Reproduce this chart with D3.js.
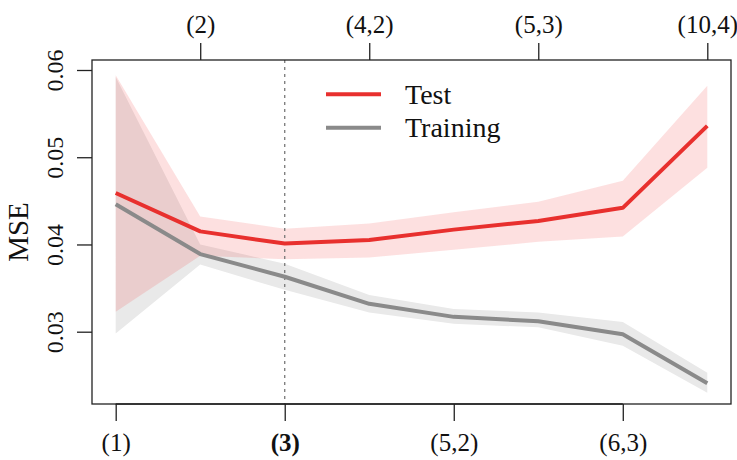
<!DOCTYPE html>
<html>
<head>
<meta charset="utf-8">
<script src="https://cdn.jsdelivr.net/npm/d3@7"></script>
<style>
  html, body { margin: 0; padding: 0; background: #fff; }
  svg { display: block; }
  text { font-family: "Liberation Serif", "DejaVu Serif", serif; fill: #111; }
</style>
</head>
<body>
<svg id="chart" width="737" height="460"></svg>
<script>
// Model index along the x axis (0..7)
const steps = [0, 1, 2, 3, 4, 5, 6, 7];

// Mean squared error per model, with lower / upper band limits
const testMSE  = [0.0459, 0.0415, 0.0401, 0.0405, 0.0417, 0.0427, 0.0442, 0.0536];
const testLow  = [0.0323, 0.0387, 0.0383, 0.0385, 0.0394, 0.0403, 0.0409, 0.0488];
const testHigh = [0.0594, 0.0432, 0.0418, 0.0424, 0.0437, 0.0449, 0.0473, 0.0582];

const trainMSE  = [0.0446, 0.0389, 0.0363, 0.0332, 0.0317, 0.0312, 0.0297, 0.0241];
const trainLow  = [0.0298, 0.0377, 0.0348, 0.0322, 0.0309, 0.0305, 0.0284, 0.0230];
const trainHigh = [0.0592, 0.0400, 0.0378, 0.0342, 0.0326, 0.0322, 0.0311, 0.0253];

// Axis tick positions and labels
const bottomTicks  = [0, 2, 4, 6];
const bottomLabels = ["(1)", "(3)", "(5,2)", "(6,3)"];
const topTicks  = [1, 3, 5, 7];
const topLabels = ["(2)", "(4,2)", "(5,3)", "(10,4)"];
const yTicks = [0.03, 0.04, 0.05, 0.06];
const selectedStep = 2;

const svg = d3.select("#chart");

const box = { left: 92, right: 731, top: 60, bottom: 404 };

const x = d3.scaleLinear().domain([0, 7]).range([115.7, 707.3]);
const y = d3.scaleLinear().domain([0.03, 0.06]).range([331.7, 70]);

const bandFor = (lo, hi) => d3.area()
  .x((d, i) => x(steps[i]))
  .y0((d, i) => y(lo[i]))
  .y1((d, i) => y(hi[i]));

const lineFor = vals => d3.line()
  .x((d, i) => x(steps[i]))
  .y((d, i) => y(vals[i]));

// Confidence bands
svg.append("path")
  .attr("d", bandFor(trainLow, trainHigh)(steps))
  .attr("fill", "#e9e9e9")
  .attr("stroke", "none");

svg.append("path")
  .attr("d", bandFor(testLow, testHigh)(steps))
  .attr("fill", "#f23030")
  .attr("fill-opacity", 0.15)
  .attr("stroke", "none");

// Selected model marker
svg.append("line")
  .attr("x1", x(selectedStep)).attr("x2", x(selectedStep))
  .attr("y1", box.top).attr("y2", box.bottom)
  .attr("stroke", "#777")
  .attr("stroke-width", 1.3)
  .attr("stroke-dasharray", "3,4");

// Mean lines
svg.append("path")
  .attr("d", lineFor(trainMSE)(steps))
  .attr("fill", "none")
  .attr("stroke", "#8a8a8a")
  .attr("stroke-width", 4)
  .attr("stroke-linejoin", "round");

svg.append("path")
  .attr("d", lineFor(testMSE)(steps))
  .attr("fill", "none")
  .attr("stroke", "#e8302e")
  .attr("stroke-width", 4)
  .attr("stroke-linejoin", "round");

// Plot frame
svg.append("rect")
  .attr("x", box.left).attr("y", box.top)
  .attr("width", box.right - box.left)
  .attr("height", box.bottom - box.top)
  .attr("fill", "none")
  .attr("stroke", "#222")
  .attr("stroke-width", 1.3);

// Bottom axis
const bottomAxis = d3.axisBottom(x)
  .tickValues(bottomTicks)
  .tickFormat((d, i) => bottomLabels[i])
  .tickSizeInner(17).tickSizeOuter(0);
const gB = svg.append("g").attr("transform", `translate(0,${box.bottom})`).call(bottomAxis);

// Top axis
const topAxis = d3.axisTop(x)
  .tickValues(topTicks)
  .tickFormat((d, i) => topLabels[i])
  .tickSizeInner(17).tickSizeOuter(0);
const gT = svg.append("g").attr("transform", `translate(0,${box.top})`).call(topAxis);

// Left axis
const leftAxis = d3.axisLeft(y)
  .tickValues(yTicks)
  .tickFormat(d3.format(".2f"))
  .tickSizeInner(15).tickSizeOuter(0);
const gL = svg.append("g").attr("transform", `translate(${box.left},0)`).call(leftAxis);

[gB, gT, gL].forEach(g => {
  g.select(".domain").remove();
  g.selectAll(".tick line").attr("stroke", "#222").attr("stroke-width", 1.3);
  g.selectAll(".tick text")
    .style("font-family", '"Liberation Serif", "DejaVu Serif", serif')
    .style("font-size", "25px")
    .attr("fill", "#111");
});

// Axis line between first and last bottom tick
svg.append("line")
  .attr("x1", x(bottomTicks[0])).attr("x2", x(bottomTicks[bottomTicks.length - 1]))
  .attr("y1", box.bottom).attr("y2", box.bottom)
  .attr("stroke", "#222").attr("stroke-width", 1.3);

gB.selectAll(".tick text")
  .attr("y", 47).attr("dy", null)
  .style("font-weight", d => d === selectedStep ? "bold" : "normal");

gT.selectAll(".tick text")
  .attr("y", -27).attr("dy", null);

// Rotated y tick labels
gL.selectAll(".tick text")
  .attr("x", null).attr("dy", null)
  .attr("text-anchor", "middle")
  .style("font-size", "24px")
  .attr("transform", "translate(-29,0) rotate(-90)");

// Y axis title
svg.append("text")
  .attr("transform", "translate(28,232) rotate(-90)")
  .attr("text-anchor", "middle")
  .style("font-size", "29px")
  .text("MSE");

// Legend
const legend = [
  { label: "Test", color: "#e8302e" },
  { label: "Training", color: "#8a8a8a" }
];
const lg = svg.append("g");
legend.forEach((d, i) => {
  const ly = 94.3 + i * 33.4;
  lg.append("line")
    .attr("x1", 326).attr("x2", 381)
    .attr("y1", ly).attr("y2", ly)
    .attr("stroke", d.color).attr("stroke-width", 4);
  lg.append("text")
    .attr("x", 405).attr("y", ly + 9.5)
    .style("font-size", "28px")
    .text(d.label);
});
</script>
</body>
</html>
